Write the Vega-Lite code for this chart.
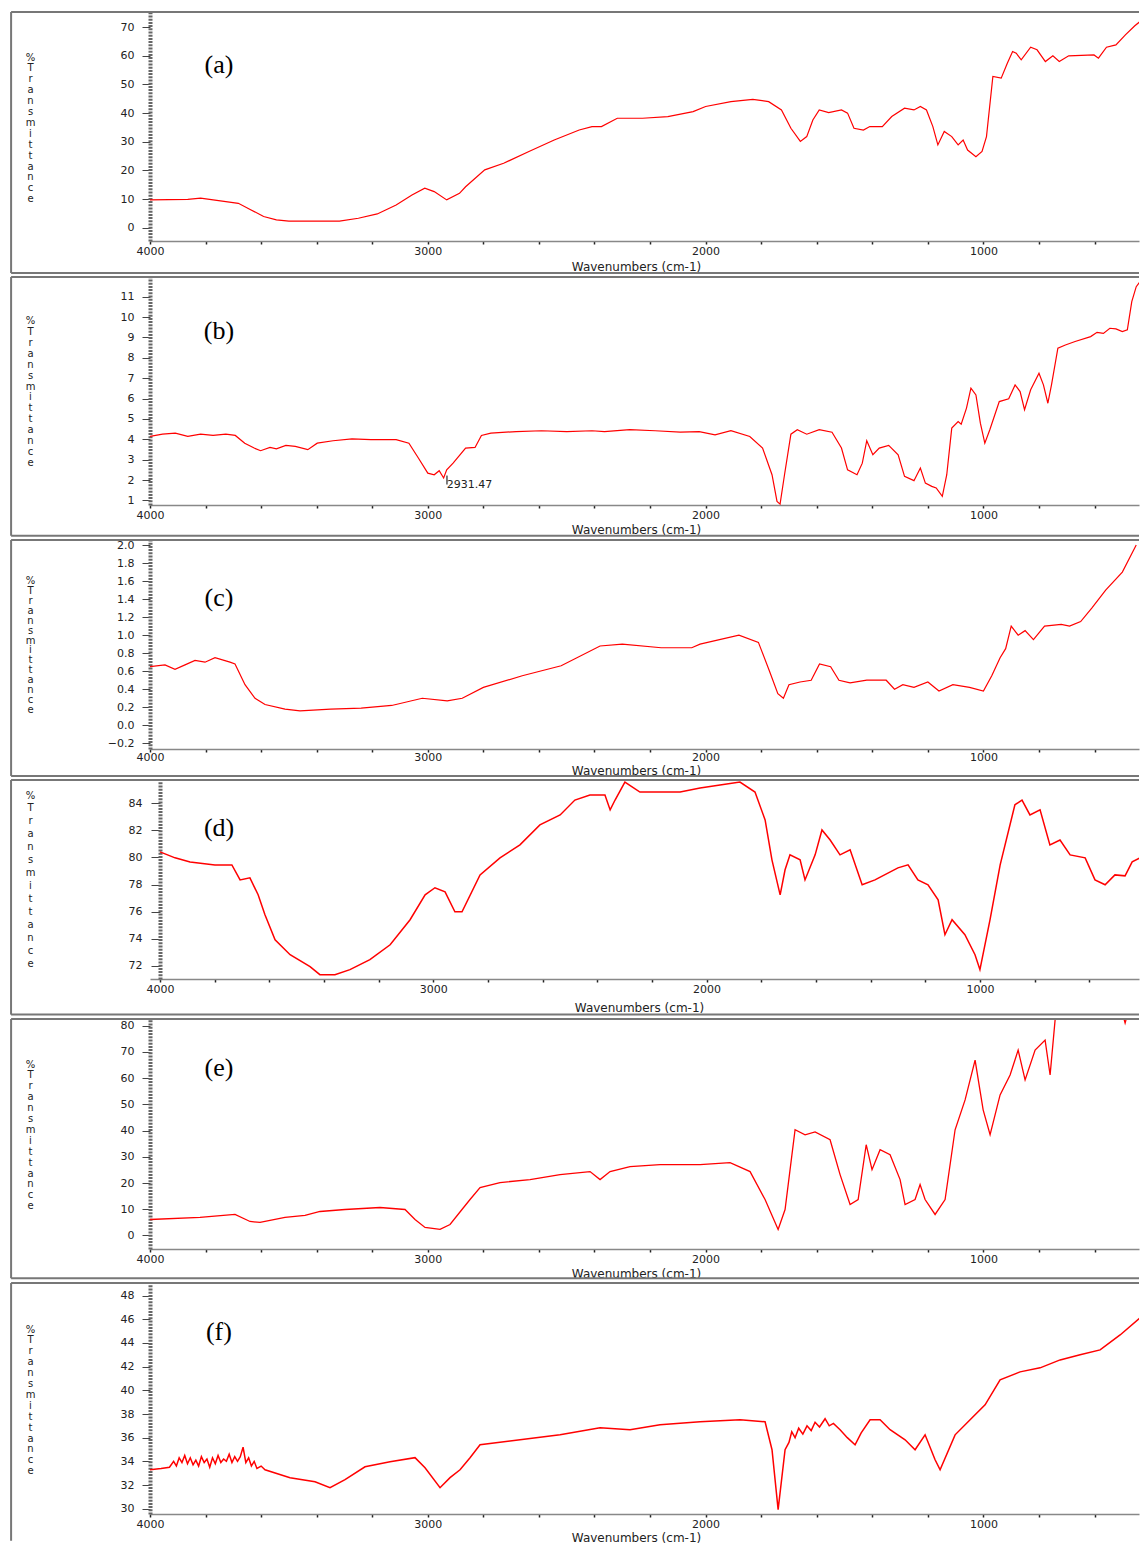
{
"$schema": "https://vega.github.io/schema/vega-lite/v6.json",
"padding": {"left": 10, "top": 11, "right": 0, "bottom": 0},
"autosize": {"type": "pad"},
"background": "white",
"spacing": 2,
"config": {
 "view": {"stroke": null},
 "concat": {"spacing": 2},
 "axis": {"grid": false, "labelFont": "DejaVu Sans", "titleFont": "DejaVu Sans", "labelColor": "#222", "titleColor": "#222", "titleFontWeight": "normal", "labelOverlap": false}
},
"datasets": {
 "a": [
  {"wn":4000,"t":9.7},{"wn":3864,"t":9.9},{"wn":3818,"t":10.3},{"wn":3727,"t":9.1},{"wn":3682,"t":8.5},{"wn":3636,"t":6.2},{"wn":3591,"t":3.9},{"wn":3545,"t":2.7},{"wn":3500,"t":2.3},{"wn":3318,"t":2.3},{"wn":3250,"t":3.3},{"wn":3182,"t":4.8},{"wn":3114,"t":7.9},{"wn":3057,"t":11.4},{"wn":3011,"t":13.8},{"wn":2977,"t":12.6},{"wn":2932,"t":9.7},{"wn":2886,"t":12.0},{"wn":2864,"t":14.3},{"wn":2795,"t":20.2},{"wn":2727,"t":22.5},{"wn":2636,"t":26.6},{"wn":2545,"t":30.6},{"wn":2455,"t":34.1},{"wn":2409,"t":35.3},{"wn":2375,"t":35.3},{"wn":2318,"t":38.2},{"wn":2227,"t":38.2},{"wn":2136,"t":38.8},{"wn":2045,"t":40.5},{"wn":2000,"t":42.3},{"wn":1909,"t":44.0},{"wn":1830,"t":44.8},{"wn":1773,"t":44.0},{"wn":1727,"t":41.1},{"wn":1693,"t":34.7},{"wn":1659,"t":30.1},{"wn":1636,"t":31.8},{"wn":1614,"t":37.6},{"wn":1591,"t":41.1},{"wn":1557,"t":40.2},{"wn":1511,"t":41.1},{"wn":1489,"t":40.0},{"wn":1466,"t":34.7},{"wn":1432,"t":34.1},{"wn":1409,"t":35.3},{"wn":1364,"t":35.3},{"wn":1330,"t":38.8},{"wn":1284,"t":41.7},{"wn":1250,"t":41.1},{"wn":1227,"t":42.3},{"wn":1205,"t":41.1},{"wn":1182,"t":35.3},{"wn":1164,"t":28.9},{"wn":1141,"t":33.6},{"wn":1114,"t":31.8},{"wn":1091,"t":28.9},{"wn":1073,"t":30.6},{"wn":1057,"t":27.1},{"wn":1027,"t":24.8},{"wn":1005,"t":26.6},{"wn":989,"t":31.8},{"wn":966,"t":52.8},{"wn":936,"t":52.2},{"wn":914,"t":57.4},{"wn":895,"t":61.5},{"wn":882,"t":60.9},{"wn":864,"t":58.6},{"wn":830,"t":63.0},{"wn":807,"t":62.1},{"wn":777,"t":58.0},{"wn":750,"t":60.0},{"wn":727,"t":58.0},{"wn":693,"t":60.0},{"wn":602,"t":60.3},{"wn":586,"t":59.2},{"wn":557,"t":63.0},{"wn":523,"t":63.8},{"wn":489,"t":67.3},{"wn":455,"t":70.5},{"wn":436,"t":72.0}
 ],
 "b": [
  {"wn":4000,"t":4.14},{"wn":3955,"t":4.25},{"wn":3909,"t":4.30},{"wn":3864,"t":4.14},{"wn":3818,"t":4.25},{"wn":3773,"t":4.19},{"wn":3727,"t":4.25},{"wn":3693,"t":4.19},{"wn":3659,"t":3.81},{"wn":3625,"t":3.57},{"wn":3602,"t":3.44},{"wn":3568,"t":3.60},{"wn":3545,"t":3.53},{"wn":3511,"t":3.70},{"wn":3477,"t":3.65},{"wn":3432,"t":3.49},{"wn":3398,"t":3.81},{"wn":3341,"t":3.93},{"wn":3273,"t":4.02},{"wn":3205,"t":3.98},{"wn":3114,"t":3.98},{"wn":3068,"t":3.81},{"wn":3034,"t":3.08},{"wn":3000,"t":2.34},{"wn":2977,"t":2.26},{"wn":2959,"t":2.46},{"wn":2943,"t":2.10},{"wn":2932,"t":2.50},{"wn":2909,"t":2.83},{"wn":2864,"t":3.57},{"wn":2830,"t":3.60},{"wn":2807,"t":4.19},{"wn":2773,"t":4.30},{"wn":2682,"t":4.38},{"wn":2591,"t":4.42},{"wn":2500,"t":4.38},{"wn":2409,"t":4.42},{"wn":2364,"t":4.38},{"wn":2273,"t":4.47},{"wn":2182,"t":4.42},{"wn":2091,"t":4.35},{"wn":2023,"t":4.38},{"wn":1966,"t":4.22},{"wn":1909,"t":4.42},{"wn":1841,"t":4.14},{"wn":1795,"t":3.57},{"wn":1761,"t":2.26},{"wn":1743,"t":0.95},{"wn":1732,"t":0.82},{"wn":1716,"t":2.26},{"wn":1693,"t":4.25},{"wn":1670,"t":4.47},{"wn":1636,"t":4.25},{"wn":1591,"t":4.47},{"wn":1545,"t":4.35},{"wn":1511,"t":3.57},{"wn":1489,"t":2.50},{"wn":1455,"t":2.26},{"wn":1436,"t":2.83},{"wn":1420,"t":3.93},{"wn":1398,"t":3.24},{"wn":1375,"t":3.57},{"wn":1341,"t":3.70},{"wn":1307,"t":3.24},{"wn":1284,"t":2.18},{"wn":1250,"t":1.97},{"wn":1227,"t":2.59},{"wn":1209,"t":1.85},{"wn":1186,"t":1.69},{"wn":1170,"t":1.61},{"wn":1148,"t":1.20},{"wn":1132,"t":2.26},{"wn":1114,"t":4.55},{"wn":1091,"t":4.87},{"wn":1080,"t":4.74},{"wn":1061,"t":5.53},{"wn":1045,"t":6.51},{"wn":1027,"t":6.18},{"wn":1011,"t":4.79},{"wn":995,"t":3.81},{"wn":977,"t":4.47},{"wn":943,"t":5.85},{"wn":909,"t":5.99},{"wn":886,"t":6.67},{"wn":868,"t":6.34},{"wn":852,"t":5.45},{"wn":830,"t":6.43},{"wn":800,"t":7.24},{"wn":784,"t":6.67},{"wn":768,"t":5.77},{"wn":755,"t":6.67},{"wn":732,"t":8.47},{"wn":705,"t":8.63},{"wn":670,"t":8.80},{"wn":614,"t":9.04},{"wn":591,"t":9.25},{"wn":568,"t":9.20},{"wn":545,"t":9.45},{"wn":523,"t":9.42},{"wn":500,"t":9.29},{"wn":482,"t":9.37},{"wn":466,"t":10.76},{"wn":450,"t":11.49},{"wn":436,"t":11.74}
 ],
 "c": [
  {"wn":4000,"t":0.65},{"wn":3946,"t":0.67},{"wn":3910,"t":0.62},{"wn":3874,"t":0.67},{"wn":3838,"t":0.72},{"wn":3802,"t":0.70},{"wn":3766,"t":0.75},{"wn":3712,"t":0.70},{"wn":3694,"t":0.68},{"wn":3658,"t":0.45},{"wn":3622,"t":0.30},{"wn":3586,"t":0.23},{"wn":3514,"t":0.18},{"wn":3460,"t":0.16},{"wn":3350,"t":0.18},{"wn":3240,"t":0.19},{"wn":3130,"t":0.22},{"wn":3020,"t":0.30},{"wn":2930,"t":0.27},{"wn":2876,"t":0.30},{"wn":2800,"t":0.42},{"wn":2660,"t":0.55},{"wn":2520,"t":0.66},{"wn":2380,"t":0.88},{"wn":2300,"t":0.90},{"wn":2160,"t":0.86},{"wn":2050,"t":0.86},{"wn":2020,"t":0.90},{"wn":1950,"t":0.95},{"wn":1880,"t":1.0},{"wn":1810,"t":0.92},{"wn":1770,"t":0.60},{"wn":1740,"t":0.35},{"wn":1720,"t":0.30},{"wn":1700,"t":0.45},{"wn":1660,"t":0.48},{"wn":1620,"t":0.50},{"wn":1590,"t":0.68},{"wn":1550,"t":0.65},{"wn":1520,"t":0.50},{"wn":1480,"t":0.47},{"wn":1420,"t":0.50},{"wn":1350,"t":0.50},{"wn":1320,"t":0.40},{"wn":1290,"t":0.45},{"wn":1250,"t":0.42},{"wn":1200,"t":0.48},{"wn":1160,"t":0.38},{"wn":1110,"t":0.45},{"wn":1050,"t":0.42},{"wn":1000,"t":0.38},{"wn":970,"t":0.55},{"wn":940,"t":0.75},{"wn":920,"t":0.85},{"wn":900,"t":1.10},{"wn":875,"t":1.00},{"wn":850,"t":1.05},{"wn":820,"t":0.95},{"wn":780,"t":1.10},{"wn":720,"t":1.12},{"wn":690,"t":1.10},{"wn":650,"t":1.15},{"wn":610,"t":1.30},{"wn":560,"t":1.50},{"wn":500,"t":1.70},{"wn":450,"t":2.0}
 ],
 "d": [
  {"wn":4000,"t":80.41},{"wn":3945,"t":79.97},{"wn":3890,"t":79.67},{"wn":3799,"t":79.45},{"wn":3737,"t":79.45},{"wn":3707,"t":78.34},{"wn":3671,"t":78.49},{"wn":3641,"t":77.24},{"wn":3616,"t":75.76},{"wn":3579,"t":73.92},{"wn":3524,"t":72.81},{"wn":3451,"t":71.93},{"wn":3415,"t":71.34},{"wn":3360,"t":71.34},{"wn":3305,"t":71.71},{"wn":3232,"t":72.45},{"wn":3158,"t":73.55},{"wn":3085,"t":75.40},{"wn":3030,"t":77.24},{"wn":2994,"t":77.76},{"wn":2957,"t":77.46},{"wn":2921,"t":75.99},{"wn":2895,"t":75.99},{"wn":2829,"t":78.71},{"wn":2756,"t":79.97},{"wn":2683,"t":80.93},{"wn":2610,"t":82.40},{"wn":2536,"t":83.14},{"wn":2482,"t":84.24},{"wn":2427,"t":84.61},{"wn":2372,"t":84.61},{"wn":2353,"t":83.51},{"wn":2335,"t":84.24},{"wn":2299,"t":85.57},{"wn":2244,"t":84.83},{"wn":2097,"t":84.83},{"wn":2024,"t":85.13},{"wn":1951,"t":85.35},{"wn":1878,"t":85.57},{"wn":1823,"t":84.83},{"wn":1786,"t":82.77},{"wn":1761,"t":79.82},{"wn":1731,"t":77.24},{"wn":1713,"t":79.09},{"wn":1695,"t":80.19},{"wn":1658,"t":79.82},{"wn":1640,"t":78.34},{"wn":1603,"t":80.19},{"wn":1578,"t":82.03},{"wn":1548,"t":81.29},{"wn":1512,"t":80.19},{"wn":1475,"t":80.56},{"wn":1431,"t":77.98},{"wn":1384,"t":78.34},{"wn":1300,"t":79.23},{"wn":1263,"t":79.45},{"wn":1227,"t":78.34},{"wn":1190,"t":77.98},{"wn":1153,"t":76.87},{"wn":1128,"t":74.29},{"wn":1102,"t":75.40},{"wn":1055,"t":74.29},{"wn":1018,"t":72.81},{"wn":1000,"t":71.71},{"wn":963,"t":75.40},{"wn":926,"t":79.45},{"wn":872,"t":83.89},{"wn":846,"t":84.24},{"wn":817,"t":83.14},{"wn":780,"t":83.51},{"wn":744,"t":80.93},{"wn":707,"t":81.29},{"wn":670,"t":80.19},{"wn":615,"t":79.97},{"wn":579,"t":78.34},{"wn":542,"t":77.98},{"wn":506,"t":78.71},{"wn":469,"t":78.64},{"wn":443,"t":79.67},{"wn":414,"t":79.97}
 ],
 "e": [
  {"wn":4000,"t":6.09},{"wn":3820,"t":6.86},{"wn":3694,"t":8.0},{"wn":3640,"t":5.33},{"wn":3604,"t":4.95},{"wn":3514,"t":6.86},{"wn":3442,"t":7.62},{"wn":3388,"t":9.14},{"wn":3298,"t":9.9},{"wn":3172,"t":10.66},{"wn":3082,"t":9.9},{"wn":3046,"t":6.09},{"wn":3010,"t":3.05},{"wn":2956,"t":2.29},{"wn":2920,"t":4.19},{"wn":2877,"t":9.9},{"wn":2848,"t":13.7},{"wn":2812,"t":18.27},{"wn":2740,"t":20.17},{"wn":2632,"t":21.31},{"wn":2524,"t":23.21},{"wn":2416,"t":24.35},{"wn":2380,"t":21.31},{"wn":2344,"t":24.35},{"wn":2272,"t":26.25},{"wn":2164,"t":27.01},{"wn":2020,"t":27.01},{"wn":1912,"t":27.77},{"wn":1840,"t":24.35},{"wn":1786,"t":13.7},{"wn":1739,"t":2.29},{"wn":1714,"t":9.9},{"wn":1678,"t":40.3},{"wn":1642,"t":38.4},{"wn":1606,"t":39.5},{"wn":1552,"t":36.5},{"wn":1516,"t":23.2},{"wn":1480,"t":11.8},{"wn":1451,"t":13.7},{"wn":1422,"t":34.6},{"wn":1401,"t":25.1},{"wn":1372,"t":32.7},{"wn":1336,"t":30.8},{"wn":1300,"t":21.3},{"wn":1282,"t":11.8},{"wn":1246,"t":13.7},{"wn":1228,"t":19.4},{"wn":1210,"t":13.7},{"wn":1174,"t":8.0},{"wn":1138,"t":13.7},{"wn":1102,"t":40.3},{"wn":1066,"t":51.7},{"wn":1030,"t":66.9},{"wn":1001,"t":47.9},{"wn":976,"t":38.4},{"wn":940,"t":53.6},{"wn":904,"t":61.2},{"wn":875,"t":70.7},{"wn":850,"t":59.3},{"wn":814,"t":70.7},{"wn":778,"t":74.5},{"wn":760,"t":61.2},{"wn":742,"t":82.2},{"wn":688,"t":95},{"wn":580,"t":95},{"wn":508,"t":88},{"wn":490,"t":81},{"wn":472,"t":88},{"wn":436,"t":90}
 ],
 "f": [
  {"wn":4000,"t":33.29},{"wn":3960,"t":33.4},{"wn":3930,"t":33.5},{"wn":3915,"t":34.0},{"wn":3905,"t":33.6},{"wn":3895,"t":34.3},{"wn":3885,"t":33.9},{"wn":3875,"t":34.5},{"wn":3865,"t":33.8},{"wn":3855,"t":34.3},{"wn":3845,"t":33.7},{"wn":3835,"t":34.1},{"wn":3825,"t":33.6},{"wn":3815,"t":34.4},{"wn":3805,"t":33.9},{"wn":3795,"t":34.2},{"wn":3785,"t":33.5},{"wn":3775,"t":34.3},{"wn":3765,"t":33.8},{"wn":3755,"t":34.5},{"wn":3745,"t":33.9},{"wn":3735,"t":34.2},{"wn":3725,"t":34.0},{"wn":3715,"t":34.6},{"wn":3705,"t":33.9},{"wn":3695,"t":34.4},{"wn":3685,"t":34.0},{"wn":3675,"t":34.4},{"wn":3665,"t":35.2},{"wn":3655,"t":33.9},{"wn":3645,"t":34.3},{"wn":3635,"t":33.6},{"wn":3625,"t":34.0},{"wn":3615,"t":33.4},{"wn":3600,"t":33.6},{"wn":3586,"t":33.29},{"wn":3496,"t":32.62},{"wn":3406,"t":32.28},{"wn":3352,"t":31.77},{"wn":3298,"t":32.45},{"wn":3226,"t":33.54},{"wn":3136,"t":33.97},{"wn":3046,"t":34.31},{"wn":3010,"t":33.46},{"wn":2956,"t":31.77},{"wn":2920,"t":32.62},{"wn":2884,"t":33.29},{"wn":2848,"t":34.31},{"wn":2812,"t":35.40},{"wn":2668,"t":35.82},{"wn":2524,"t":36.24},{"wn":2380,"t":36.84},{"wn":2272,"t":36.67},{"wn":2164,"t":37.09},{"wn":2020,"t":37.34},{"wn":1876,"t":37.51},{"wn":1786,"t":37.34},{"wn":1761,"t":34.98},{"wn":1739,"t":29.92},{"wn":1714,"t":34.98},{"wn":1700,"t":35.6},{"wn":1690,"t":36.5},{"wn":1678,"t":36.0},{"wn":1665,"t":36.8},{"wn":1650,"t":36.3},{"wn":1635,"t":37.0},{"wn":1620,"t":36.6},{"wn":1606,"t":37.3},{"wn":1590,"t":36.9},{"wn":1570,"t":37.6},{"wn":1555,"t":37.0},{"wn":1540,"t":37.2},{"wn":1516,"t":36.67},{"wn":1490,"t":36.0},{"wn":1462,"t":35.40},{"wn":1440,"t":36.4},{"wn":1408,"t":37.51},{"wn":1372,"t":37.51},{"wn":1336,"t":36.67},{"wn":1282,"t":35.82},{"wn":1246,"t":34.98},{"wn":1210,"t":36.24},{"wn":1174,"t":34.13},{"wn":1156,"t":33.29},{"wn":1102,"t":36.24},{"wn":1048,"t":37.51},{"wn":994,"t":38.78},{"wn":940,"t":40.89},{"wn":868,"t":41.56},{"wn":796,"t":41.90},{"wn":724,"t":42.57},{"wn":652,"t":43.0},{"wn":580,"t":43.42},{"wn":508,"t":44.68},{"wn":436,"t":46.12}
 ]
},
"vconcat": [
 {
  "width": 989, "height": 229,
  "layer": [
   {"data": {"name": "a"}, "mark": {"type": "line", "color": "#ff0000", "strokeWidth": 1.2, "clip": true},
    "encoding": {
     "x": {"field": "wn", "type": "quantitative", "scale": {"domain": [4000, 440], "nice": false, "zero": false},
      "axis": {"title": "Wavenumbers (cm-1)", "values": [4000,3800,3600,3400,3200,3000,2800,2600,2400,2200,2000,1800,1600,1400,1200,1000,800,600], "tickCount": 40, "format": "d", "labelExpr": "datum.value % 1000 === 0 ? datum.label : ''", "labelFlush": false, "labelOverlap": false, "labelBaseline": "middle", "labelPadding": 7.7, "labelFontSize": 11, "tickSize": 3, "tickWidth": 1.5, "tickColor": "#222", "domainColor": "#888", "domainWidth": 1.5, "titleFontSize": 12, "titleBaseline": "middle", "titleX": 486, "titleY": 25}},
     "y": {"field": "t", "type": "quantitative", "scale": {"domain": [-4.65, 75.3], "nice": false, "zero": false},
      "axis": {"title": ["%","T","r","a","n","s","m","i","t","t","a","n","c","e"], "values": [0,10,20,30,40,50,60,70], "tickCount": 40, "format": "d", "labelOverlap": false, "labelFontSize": 11, "labelPadding": 8, "tickSize": 8, "tickColor": "#444", "domainColor": "#666", "domainWidth": 4, "domainDash": [2, 1.2], "titleAngle": 0, "titleAlign": "center", "titleBaseline": "middle", "titleX": -120, "titleY": 45, "titleFontSize": 10, "titleLineHeight": 10.9}}
    }},
   {"data": {"values": [{}]}, "mark": {"type": "rule", "color": "#777", "strokeWidth": 2},
    "encoding": {"x": {"datum": 4500, "type": "quantitative"}, "x2": {"datum": 440}, "y": {"datum": 75.3, "type": "quantitative"}}},
   {"data": {"values": [{}]}, "mark": {"type": "rule", "color": "#777", "strokeWidth": 2},
    "encoding": {"x": {"datum": 4500, "type": "quantitative"}, "x2": {"datum": 440}, "y": {"datum": -15.82, "type": "quantitative"}}},
   {"data": {"values": [{}]}, "mark": {"type": "rule", "color": "#777", "strokeWidth": 2},
    "encoding": {"x": {"datum": 4500, "type": "quantitative"}, "y": {"datum": -15.82, "type": "quantitative"}, "y2": {"datum": 75.3}}},
   {"data": {"values": [{}]}, "mark": {"type": "text", "font": "Liberation Serif", "fontSize": 26, "align": "center", "baseline": "middle", "color": "#000"},
    "encoding": {"x": {"datum": 3752, "type": "quantitative"}, "y": {"datum": 56.8, "type": "quantitative"}, "text": {"value": "(a)"}}}
  ]
 },
 {
  "width": 989, "height": 228,
  "layer": [
   {"data": {"name": "b"}, "mark": {"type": "line", "color": "#ff0000", "strokeWidth": 1.2, "clip": true},
    "encoding": {
     "x": {"field": "wn", "type": "quantitative", "scale": {"domain": [4000, 440], "nice": false, "zero": false},
      "axis": {"title": "Wavenumbers (cm-1)", "values": [4000,3800,3600,3400,3200,3000,2800,2600,2400,2200,2000,1800,1600,1400,1200,1000,800,600], "tickCount": 40, "format": "d", "labelExpr": "datum.value % 1000 === 0 ? datum.label : ''", "labelFlush": false, "labelOverlap": false, "labelBaseline": "middle", "labelPadding": 7.4, "labelFontSize": 11, "tickSize": 3, "tickWidth": 1.5, "tickColor": "#222", "domainColor": "#888", "domainWidth": 1.5, "titleFontSize": 12, "titleBaseline": "middle", "titleX": 486, "titleY": 24.7}},
     "y": {"field": "t", "type": "quantitative", "scale": {"domain": [0.775, 11.966], "nice": false, "zero": false},
      "axis": {"title": ["%","T","r","a","n","s","m","i","t","t","a","n","c","e"], "values": [1,2,3,4,5,6,7,8,9,10,11], "tickCount": 40, "format": "d", "labelOverlap": false, "labelFontSize": 11, "labelPadding": 8, "tickSize": 8, "tickColor": "#444", "domainColor": "#666", "domainWidth": 4, "domainDash": [2, 1.2], "titleAngle": 0, "titleAlign": "center", "titleBaseline": "middle", "titleX": -120, "titleY": 43.7, "titleFontSize": 10, "titleLineHeight": 10.9}}
    }},
   {"data": {"values": [{}]}, "mark": {"type": "rule", "color": "#777", "strokeWidth": 2},
    "encoding": {"x": {"datum": 4500, "type": "quantitative"}, "x2": {"datum": 440}, "y": {"datum": 11.966, "type": "quantitative"}}},
   {"data": {"values": [{}]}, "mark": {"type": "rule", "color": "#777", "strokeWidth": 2},
    "encoding": {"x": {"datum": 4500, "type": "quantitative"}, "x2": {"datum": 440}, "y": {"datum": -0.73, "type": "quantitative"}}},
   {"data": {"values": [{}]}, "mark": {"type": "rule", "color": "#777", "strokeWidth": 2},
    "encoding": {"x": {"datum": 4500, "type": "quantitative"}, "y": {"datum": -0.73, "type": "quantitative"}, "y2": {"datum": 11.966}}},
   {"data": {"values": [{}]}, "mark": {"type": "rule", "color": "#000", "strokeWidth": 1},
    "encoding": {"x": {"datum": 2931, "type": "quantitative"}, "y": {"datum": 2.22, "type": "quantitative"}, "y2": {"datum": 1.78}}},
   {"data": {"values": [{}]}, "mark": {"type": "text", "font": "DejaVu Sans", "fontSize": 11, "align": "left", "baseline": "middle", "color": "#222"},
    "encoding": {"x": {"datum": 2932, "type": "quantitative"}, "y": {"datum": 1.74, "type": "quantitative"}, "text": {"value": "2931.47"}}},
   {"data": {"values": [{}]}, "mark": {"type": "text", "font": "Liberation Serif", "fontSize": 26, "align": "center", "baseline": "middle", "color": "#000"},
    "encoding": {"x": {"datum": 3752, "type": "quantitative"}, "y": {"datum": 9.32, "type": "quantitative"}, "text": {"value": "(b)"}}}
  ]
 },
 {
  "width": 989, "height": 209,
  "layer": [
   {"data": {"name": "c"}, "mark": {"type": "line", "color": "#ff0000", "strokeWidth": 1.2, "clip": true},
    "encoding": {
     "x": {"field": "wn", "type": "quantitative", "scale": {"domain": [4000, 440], "nice": false, "zero": false},
      "axis": {"title": "Wavenumbers (cm-1)", "values": [4000,3800,3600,3400,3200,3000,2800,2600,2400,2200,2000,1800,1600,1400,1200,1000,800,600], "tickCount": 40, "format": "d", "labelExpr": "datum.value % 1000 === 0 ? datum.label : ''", "labelFlush": false, "labelOverlap": false, "labelBaseline": "middle", "labelPadding": 5.7, "labelFontSize": 11, "tickSize": 3, "tickWidth": 1.5, "tickColor": "#222", "domainColor": "#888", "domainWidth": 1.5, "titleFontSize": 12, "titleBaseline": "middle", "titleX": 486, "titleY": 21.5}},
     "y": {"field": "t", "type": "quantitative", "scale": {"domain": [-0.263, 2.0555], "nice": false, "zero": false},
      "axis": {"title": ["%","T","r","a","n","s","m","i","t","t","a","n","c","e"], "values": [-0.2,0,0.2,0.4,0.6,0.8,1.0,1.2,1.4,1.6,1.8,2.0], "tickCount": 40, "format": ".1f", "labelOverlap": false, "labelFontSize": 11, "labelPadding": 8, "tickSize": 8, "tickColor": "#444", "domainColor": "#666", "domainWidth": 4, "domainDash": [2, 1.2], "titleAngle": 0, "titleAlign": "center", "titleBaseline": "middle", "titleX": -120, "titleY": 40.7, "titleFontSize": 10, "titleLineHeight": 9.9}}
    }},
   {"data": {"values": [{}]}, "mark": {"type": "rule", "color": "#777", "strokeWidth": 2},
    "encoding": {"x": {"datum": 4500, "type": "quantitative"}, "x2": {"datum": 440}, "y": {"datum": 2.0555, "type": "quantitative"}}},
   {"data": {"values": [{}]}, "mark": {"type": "rule", "color": "#777", "strokeWidth": 2},
    "encoding": {"x": {"datum": 4500, "type": "quantitative"}, "x2": {"datum": 440}, "y": {"datum": -0.562, "type": "quantitative"}}},
   {"data": {"values": [{}]}, "mark": {"type": "rule", "color": "#777", "strokeWidth": 2},
    "encoding": {"x": {"datum": 4500, "type": "quantitative"}, "y": {"datum": -0.562, "type": "quantitative"}, "y2": {"datum": 2.0555}}},
   {"data": {"values": [{}]}, "mark": {"type": "text", "font": "Liberation Serif", "fontSize": 26, "align": "center", "baseline": "middle", "color": "#000"},
    "encoding": {"x": {"datum": 3752, "type": "quantitative"}, "y": {"datum": 1.41, "type": "quantitative"}, "text": {"value": "(c)"}}}
  ]
 },
 {
  "width": 989, "height": 199,
  "layer": [
   {"data": {"name": "d"}, "mark": {"type": "line", "color": "#ff0000", "strokeWidth": 1.5, "clip": true},
    "encoding": {
     "x": {"field": "wn", "type": "quantitative", "scale": {"domain": [4036.6, 418], "nice": false, "zero": false},
      "axis": {"title": "Wavenumbers (cm-1)", "values": [4000,3800,3600,3400,3200,3000,2800,2600,2400,2200,2000,1800,1600,1400,1200,1000,800,600], "tickCount": 40, "format": "d", "labelExpr": "datum.value % 1000 === 0 ? datum.label : ''", "labelFlush": false, "labelOverlap": false, "labelBaseline": "middle", "labelPadding": 7.7, "labelFontSize": 11, "tickSize": 3, "tickWidth": 1.5, "tickColor": "#222", "domainColor": "#888", "domainWidth": 1.5, "titleFontSize": 12, "titleBaseline": "middle", "titleX": 489, "titleY": 28.7}},
     "y": {"field": "t", "type": "quantitative", "scale": {"domain": [71.02, 85.72], "nice": false, "zero": false},
      "axis": {"title": ["%","T","r","a","n","s","m","i","t","t","a","n","c","e"], "values": [72,74,76,78,80,82,84], "tickCount": 40, "format": "d", "offset": -10, "labelOverlap": false, "labelFontSize": 11, "labelPadding": 9, "tickSize": 9, "tickColor": "#444", "domainColor": "#666", "domainWidth": 4, "domainDash": [2, 1.2], "titleAngle": 0, "titleAlign": "center", "titleBaseline": "middle", "titleX": -130, "titleY": 15, "titleFontSize": 10, "titleLineHeight": 12.95}}
    }},
   {"data": {"values": [{}]}, "mark": {"type": "rule", "color": "#777", "strokeWidth": 2},
    "encoding": {"x": {"datum": 4545, "type": "quantitative"}, "x2": {"datum": 418}, "y": {"datum": 85.72, "type": "quantitative"}}},
   {"data": {"values": [{}]}, "mark": {"type": "rule", "color": "#777", "strokeWidth": 2},
    "encoding": {"x": {"datum": 4545, "type": "quantitative"}, "x2": {"datum": 418}, "y": {"datum": 68.39, "type": "quantitative"}}},
   {"data": {"values": [{}]}, "mark": {"type": "rule", "color": "#777", "strokeWidth": 2},
    "encoding": {"x": {"datum": 4545, "type": "quantitative"}, "y": {"datum": 68.39, "type": "quantitative"}, "y2": {"datum": 85.72}}},
   {"data": {"values": [{}]}, "mark": {"type": "text", "font": "Liberation Serif", "fontSize": 26, "align": "center", "baseline": "middle", "color": "#000"},
    "encoding": {"x": {"datum": 3784, "type": "quantitative"}, "y": {"datum": 82.18, "type": "quantitative"}, "text": {"value": "(d)"}}}
  ]
 },
 {
  "width": 989, "height": 230,
  "layer": [
   {"data": {"name": "e"}, "mark": {"type": "line", "color": "#ff0000", "strokeWidth": 1.3, "clip": true},
    "encoding": {
     "x": {"field": "wn", "type": "quantitative", "scale": {"domain": [4000, 440], "nice": false, "zero": false},
      "axis": {"title": "Wavenumbers (cm-1)", "values": [4000,3800,3600,3400,3200,3000,2800,2600,2400,2200,2000,1800,1600,1400,1200,1000,800,600], "tickCount": 40, "format": "d", "labelExpr": "datum.value % 1000 === 0 ? datum.label : ''", "labelFlush": false, "labelOverlap": false, "labelBaseline": "middle", "labelPadding": 7, "labelFontSize": 11, "tickSize": 3, "tickWidth": 1.5, "tickColor": "#222", "domainColor": "#888", "domainWidth": 1.5, "titleFontSize": 12, "titleBaseline": "middle", "titleX": 486, "titleY": 24.7}},
     "y": {"field": "t", "type": "quantitative", "scale": {"domain": [-5.17, 82.55], "nice": false, "zero": false},
      "axis": {"title": ["%","T","r","a","n","s","m","i","t","t","a","n","c","e"], "values": [0,10,20,30,40,50,60,70,80], "tickCount": 40, "format": "d", "labelOverlap": false, "labelFontSize": 11, "labelPadding": 8, "tickSize": 8, "tickColor": "#444", "domainColor": "#666", "domainWidth": 4, "domainDash": [2, 1.2], "titleAngle": 0, "titleAlign": "center", "titleBaseline": "middle", "titleX": -120, "titleY": 45, "titleFontSize": 10, "titleLineHeight": 10.9}}
    }},
   {"data": {"values": [{}]}, "mark": {"type": "rule", "color": "#777", "strokeWidth": 2},
    "encoding": {"x": {"datum": 4500, "type": "quantitative"}, "x2": {"datum": 440}, "y": {"datum": 82.55, "type": "quantitative"}}},
   {"data": {"values": [{}]}, "mark": {"type": "rule", "color": "#777", "strokeWidth": 2},
    "encoding": {"x": {"datum": 4500, "type": "quantitative"}, "x2": {"datum": 440}, "y": {"datum": -16.35, "type": "quantitative"}}},
   {"data": {"values": [{}]}, "mark": {"type": "rule", "color": "#777", "strokeWidth": 2},
    "encoding": {"x": {"datum": 4500, "type": "quantitative"}, "y": {"datum": -16.35, "type": "quantitative"}, "y2": {"datum": 82.55}}},
   {"data": {"values": [{}]}, "mark": {"type": "text", "font": "Liberation Serif", "fontSize": 26, "align": "center", "baseline": "middle", "color": "#000"},
    "encoding": {"x": {"datum": 3752, "type": "quantitative"}, "y": {"datum": 63.9, "type": "quantitative"}, "text": {"value": "(e)"}}}
  ]
 },
 {
  "width": 989, "height": 231,
  "layer": [
   {"data": {"name": "f"}, "mark": {"type": "line", "color": "#ff0000", "strokeWidth": 1.5, "clip": true},
    "encoding": {
     "x": {"field": "wn", "type": "quantitative", "scale": {"domain": [4000, 440], "nice": false, "zero": false},
      "axis": {"title": "Wavenumbers (cm-1)", "values": [4000,3800,3600,3400,3200,3000,2800,2600,2400,2200,2000,1800,1600,1400,1200,1000,800,600], "tickCount": 40, "format": "d", "labelExpr": "datum.value % 1000 === 0 ? datum.label : ''", "labelFlush": false, "labelOverlap": false, "labelBaseline": "middle", "labelPadding": 7, "labelFontSize": 11, "tickSize": 3, "tickWidth": 1.5, "tickColor": "#222", "domainColor": "#888", "domainWidth": 1.5, "titleFontSize": 12, "titleBaseline": "middle", "titleX": 486, "titleY": 23}},
     "y": {"field": "t", "type": "quantitative", "scale": {"domain": [29.55, 49.07], "nice": false, "zero": false},
      "axis": {"title": ["%","T","r","a","n","s","m","i","t","t","a","n","c","e"], "values": [30,32,34,36,38,40,42,44,46,48], "tickCount": 40, "format": "d", "labelOverlap": false, "labelFontSize": 11, "labelPadding": 8, "tickSize": 8, "tickColor": "#444", "domainColor": "#666", "domainWidth": 4, "domainDash": [2, 1.2], "titleAngle": 0, "titleAlign": "center", "titleBaseline": "middle", "titleX": -120, "titleY": 46, "titleFontSize": 10, "titleLineHeight": 10.9}}
    }},
   {"data": {"values": [{}]}, "mark": {"type": "rule", "color": "#777", "strokeWidth": 2},
    "encoding": {"x": {"datum": 4500, "type": "quantitative"}, "x2": {"datum": 440}, "y": {"datum": 49.07, "type": "quantitative"}}},
   {"data": {"values": [{}]}, "mark": {"type": "rule", "color": "#777", "strokeWidth": 2},
    "encoding": {"x": {"datum": 4500, "type": "quantitative"}, "y": {"datum": 27.3, "type": "quantitative"}, "y2": {"datum": 49.07}}},
   {"data": {"values": [{}]}, "mark": {"type": "text", "font": "Liberation Serif", "fontSize": 26, "align": "center", "baseline": "middle", "color": "#000"},
    "encoding": {"x": {"datum": 3752, "type": "quantitative"}, "y": {"datum": 44.94, "type": "quantitative"}, "text": {"value": "(f)"}}}
  ]
 }
]
}
